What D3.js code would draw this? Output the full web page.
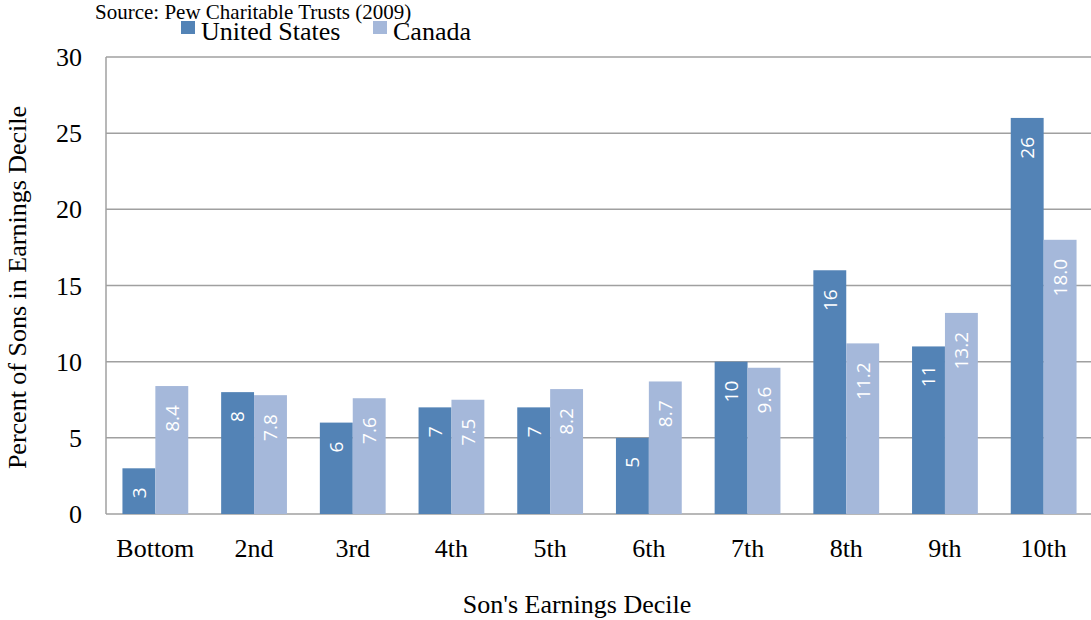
<!DOCTYPE html>
<html>
<head>
<meta charset="utf-8">
<script src="https://cdn.jsdelivr.net/npm/d3@7"></script>
<style>
  body { margin: 0; background: #fff; }
  svg { display: block; }
</style>
</head>
<body>
<svg></svg>
<script>
const categories = ['Bottom', '2nd', '3rd', '4th', '5th', '6th', '7th', '8th', '9th', '10th'];
const seriesNames = ['United States', 'Canada'];
const usValues = [3, 8, 6, 7, 7, 5, 10, 16, 11, 26];
const caValues = [8.4, 7.8, 7.6, 7.5, 8.2, 8.7, 9.6, 11.2, 13.2, 18.0];
const yTicks = [0, 5, 10, 15, 20, 25, 30];
const colors = ['#5383b6', '#a5b8da'];

const width = 1091;
const height = 620;
const pd = { top: 57, left: 106, right: -2, bottom: 106 };
const serif = '"Liberation Serif", "Times New Roman", serif';

const svg = d3.select('svg')
  .attr('width', width)
  .attr('height', height)

const rows = categories.map((c, i) => ({
  cat: c,
  vals: [
    { s: 0, v: usValues[i], txt: String(usValues[i]) },
    { s: 1, v: caValues[i], txt: caValues[i].toFixed(1) }
  ]
}))

const x = d3.scaleBand()
  .domain(categories)
  .range([pd.left, width - pd.right])
  .padding(0)

const x1 = d3.scaleBand()
  .domain([0, 1])
  .range([x.bandwidth() / 6, x.bandwidth() * 5 / 6])
  .padding(0)

const y = d3.scaleLinear()
  .domain([0, 30])
  .range([height - pd.bottom, pd.top])

// grid + frame
svg.append('g')
  .selectAll('line')
  .data(yTicks)
  .enter()
  .append('line')
  .attr('x1', pd.left)
  .attr('x2', width)
  .attr('y1', d => y(d))
  .attr('y2', d => y(d))
  .attr('stroke', '#a0a0a0')
  .attr('stroke-width', 1.5)

svg.append('line')
  .attr('x1', pd.left)
  .attr('x2', pd.left)
  .attr('y1', y(30))
  .attr('y2', y(0))
  .attr('stroke', '#a0a0a0')
  .attr('stroke-width', 1.5)

// bars
const groups = svg.append('g')
  .selectAll('g')
  .data(rows)
  .enter()
  .append('g')
  .attr('transform', d => `translate(${x(d.cat)},0)`)

groups.selectAll('rect')
  .data(d => d.vals)
  .enter()
  .append('rect')
  .attr('x', d => x1(d.s))
  .attr('width', x1.bandwidth())
  .attr('y', d => y(d.v))
  .attr('height', d => y(0) - y(d.v))
  .attr('fill', d => colors[d.s])

groups.selectAll('text')
  .data(d => d.vals)
  .enter()
  .append('text')
  .attr('transform', d => {
    const cx = x1(d.s) + x1.bandwidth() / 2
    const ty = Math.min(y(d.v) + 19, y(0) - 6)
    return `translate(${cx},${ty}) rotate(-90)`
  })
  .attr('text-anchor', 'end')
  .attr('dy', '0.36em')
  .attr('fill', '#fff')
  .style('font-family', '"Open Sans", "DejaVu Sans", sans-serif')
  .style('font-size', '19px')
  .text(d => d.txt)

// y tick labels
svg.append('g')
  .selectAll('text')
  .data(yTicks)
  .enter()
  .append('text')
  .attr('x', 82)
  .attr('y', d => y(d))
  .attr('dy', '0.35em')
  .attr('text-anchor', 'end')
  .style('font-family', serif)
  .style('font-size', '26px')
  .text(d => d)

// x tick labels
svg.append('g')
  .selectAll('text')
  .data(categories)
  .enter()
  .append('text')
  .attr('x', d => x(d) + x.bandwidth() / 2)
  .attr('y', 557)
  .attr('text-anchor', 'middle')
  .style('font-family', serif)
  .style('font-size', '26px')
  .text(d => d)

// axis titles
svg.append('text')
  .attr('x', 577)
  .attr('y', 613)
  .attr('text-anchor', 'middle')
  .style('font-family', serif)
  .style('font-size', '26px')
  .text("Son's Earnings Decile")

svg.append('text')
  .attr('transform', `translate(26, ${(y(0) + y(30)) / 2 + 2}) rotate(-90)`)
  .attr('text-anchor', 'middle')
  .style('font-family', serif)
  .style('font-size', '26px')
  .text('Percent of Sons in Earnings Decile')

// source
svg.append('text')
  .attr('x', 95)
  .attr('y', 19)
  .style('font-family', serif)
  .style('font-size', '21px')
  .text('Source: Pew Charitable Trusts (2009)')

// legend
const legX = [181, 373]
const leg = svg.append('g')
  .selectAll('g')
  .data(seriesNames)
  .enter()
  .append('g')
  .attr('transform', (d, i) => `translate(${legX[i]},21)`)
leg.append('rect')
  .attr('width', 14)
  .attr('height', 13)
  .attr('fill', (d, i) => colors[i])
leg.append('text')
  .attr('x', 20)
  .attr('y', 19)
  .style('font-family', serif)
  .style('font-size', '26px')
  .text(d => d)
</script>
</body>
</html>
